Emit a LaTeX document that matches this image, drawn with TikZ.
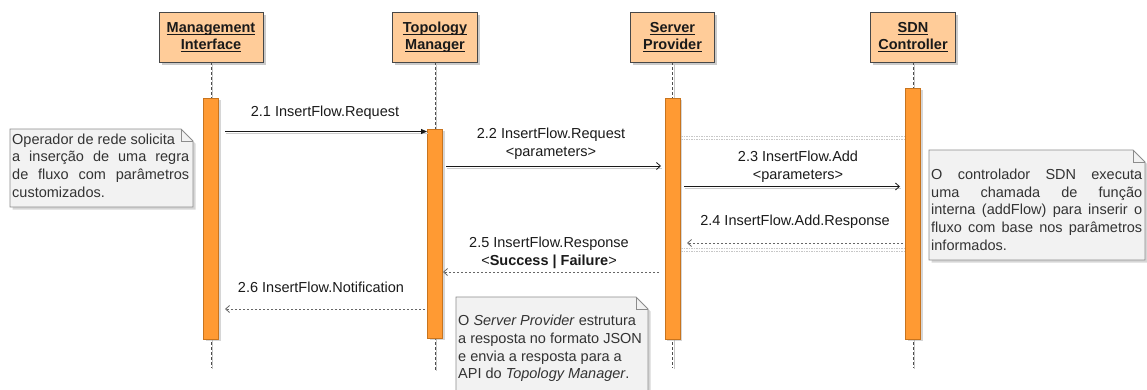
\documentclass[tikz,border=0pt]{standalone}
\usepackage{fontspec}
\setmainfont{Liberation Sans}
\usetikzlibrary{arrows.meta,shadows}

\definecolor{headfill}{HTML}{FFCC99}
\definecolor{barfill}{HTML}{FF9A33}
\definecolor{bardraw}{HTML}{C8741E}
\definecolor{notefill}{HTML}{F2F2F2}
\definecolor{notedraw}{HTML}{8C8C8C}
\definecolor{txt}{HTML}{1A1A1A}
\definecolor{notetxt}{HTML}{333333}

% underline at a fixed distance below the baseline
\newsavebox\hdbox
\newcommand\hdul[1]{\sbox\hdbox{#1}\rlap{\rule[-2.3pt]{\wd\hdbox}{1pt}}\usebox\hdbox}

\tikzset{
  lbl/.style={inner sep=0pt, text=txt, align=center,
    font=\fontsize{14.5}{18}\selectfont},
  head/.style={draw=black!72, fill=headfill, line width=0.8pt,
    minimum height=50pt, align=center, inner sep=0pt, text=txt,
    font=\fontsize{14.5}{17}\selectfont\bfseries,
    drop shadow={shadow xshift=2.5pt, shadow yshift=-2.5pt, opacity=0.45, fill=black!45}},
  bar/.style={draw=bardraw, fill=barfill, line width=0.7pt,
    minimum width=15pt, inner sep=0pt,
    drop shadow={shadow xshift=2pt, shadow yshift=-2pt, opacity=0.4, fill=black!40}},
  life/.style={draw=black!70, line width=0.8pt, dash pattern=on 3pt off 2pt,
    preaction={draw=black!22, transform canvas={shift={(1.5pt,-1pt)}}}},
  msgshadow/.style={preaction={draw=black!20, line width=1pt, arrows=-,
    transform canvas={shift={(0.5pt,-2.2pt)}}}},
  syncmsg/.style={draw=black!90, line width=0.8pt, msgshadow,
    -{Triangle[length=6pt,width=5pt]}},
  callmsg/.style={draw=black!90, line width=0.8pt, msgshadow,
    -{Straight Barb[length=4pt,width=7pt,line width=0.8pt]}},
  replymsg/.style={draw=black!60, line width=0.7pt, dash pattern=on 2pt off 2pt,
    -{Straight Barb[length=4pt,width=7pt,line width=0.8pt]}},
  faint/.style={draw=black!22, line width=0.6pt, dash pattern=on 1.5pt off 1pt},
  notebody/.style={draw=notedraw, fill=notefill, line width=0.8pt},
  noteshade/.style={fill=black!40, opacity=0.4, draw=none},
  notetext/.style={inner sep=0pt, text=notetxt, align=left, anchor=west,
    font=\fontsize{14.5}{17.7}\selectfont},
}

\begin{document}
\begin{tikzpicture}[x=1pt,y=-1pt]
\useasboundingbox (0,0) rectangle (1147,389);

% participant heads
\node[head, minimum width=104pt] (hMI)  at (211,37)   {\hdul{Management}\\\hdul{Interface}};
\node[head, minimum width=85pt]  (hTM)  at (435,37)   {\hdul{Topology}\\\hdul{Manager}};
\node[head, minimum width=84pt]  (hSP)  at (672.5,37) {\hdul{Server}\\\hdul{Provider}};
\node[head, minimum width=85pt]  (hSDN) at (913,37)   {\hdul{SDN}\\\hdul{Controller}};

% lifeline ends
\coordinate (eMI)  at (211,368);
\coordinate (eTM)  at (435,370);
\coordinate (eSP)  at (672.5,368);
\coordinate (eSDN) at (913,368);

\draw[life] (hMI.south)  -- (eMI);
\draw[life] (hTM.south)  -- (eTM);
\draw[life] (hSP.south)  -- (eSP);
\draw[life] (hSDN.south) -- (eSDN);

% activation bars
\node[bar, minimum height=241pt] (bMI)  at (211,218.5)   {};
\node[bar, minimum height=209pt] (bTM)  at (435,233.5)   {};
\node[bar, minimum height=241pt] (bSP)  at (672.5,218.5) {};
\node[bar, minimum height=251pt] (bSDN) at (913,213.5)   {};

% faint guide rows between Server Provider and SDN Controller
\coordinate (g1a) at (681,136.5); \coordinate (g1b) at (904,136.5);
\coordinate (g2a) at (681,139);   \coordinate (g2b) at (904,139);
\coordinate (g3a) at (681,248.5); \coordinate (g3b) at (904,248.5);
\coordinate (g4a) at (681,251);   \coordinate (g4b) at (904,251);
\draw[faint] (g1a) -- (g1b);
\draw[faint] (g2a) -- (g2b);
\draw[faint] (g3a) -- (g3b);
\draw[faint] (g4a) -- (g4b);

% message end points
\coordinate (m1s) at (225,131.5); \coordinate (m1e) at (427,131.5);
\coordinate (m2s) at (446,166);   \coordinate (m2e) at (661,166);
\coordinate (m3s) at (684,186.5); \coordinate (m3e) at (900,186.5);
\coordinate (m4s) at (903,243);   \coordinate (m4e) at (687,243);
\coordinate (m5s) at (659,272);   \coordinate (m5e) at (443,272);
\coordinate (m6s) at (425,309);   \coordinate (m6e) at (225,309);

% messages
\draw[syncmsg]  (m1s) -- (m1e);
\draw[callmsg]  (m2s) -- (m2e);
\draw[callmsg]  (m3s) -- (m3e);
\draw[replymsg] (m4s) -- (m4e);
\draw[replymsg] (m5s) -- (m5e);
\draw[replymsg] (m6s) -- (m6e);

% message labels
\node[lbl] (l1) at (325,113)   {2.1 InsertFlow.Request};
\node[lbl] (l2) at (551,144)   {2.2 InsertFlow.Request\\<parameters>};
\node[lbl] (l3) at (798,167)   {2.3 InsertFlow.Add\\<parameters>};
\node[lbl] (l4) at (795,222)   {2.4 InsertFlow.Add.Response};
\node[lbl] (l5) at (549,253)   {2.5 InsertFlow.Response\\<\textbf{Success | Failure}>};
\node[lbl] (l6) at (321,287.5) {2.6 InsertFlow.Notification};

% note: request from the operator
\fill[noteshade] (12.5,131.5) -- (183.5,131.5) -- (195.5,143.5) -- (195.5,209.5) -- (12.5,209.5) -- cycle;
\draw[notebody] (10,129) -- (181,129) -- (193,141) -- (193,207) -- (10,207) -- cycle;
\draw[notebody, fill=none] (181,129) -- (181,141) -- (193,141);
\node[notetext] (n1) at (12,165.5)
  {Operador de rede solicita\\
   \makebox[177pt][s]{a inserção de uma regra}\\
   \makebox[177pt][s]{de fluxo com parâmetros}\\
   customizados.};

% note: SDN controller internals
\fill[noteshade] (931.5,152.5) -- (1135.5,152.5) -- (1147.5,164.5) -- (1147.5,262.5) -- (931.5,262.5) -- cycle;
\draw[notebody] (929,150) -- (1133,150) -- (1145,162) -- (1145,260) -- (929,260) -- cycle;
\draw[notebody, fill=none] (1133,150) -- (1133,162) -- (1145,162);
\node[notetext] (n2) at (931,209.7)
  {\makebox[211pt][s]{O controlador SDN executa}\\
   \makebox[211pt][s]{uma chamada de função}\\
   \makebox[211pt][s]{interna (addFlow) para inserir o}\\
   \makebox[211pt][s]{fluxo com base nos parâmetros}\\
   informados.};

% note: response built by the Server Provider
\fill[noteshade] (458.5,299.5) -- (638.5,299.5) -- (650.5,311.5) -- (650.5,400) -- (458.5,400) -- cycle;
\draw[notebody] (456,297) -- (636,297) -- (648,309) -- (648,400) -- (456,400) -- cycle;
\draw[notebody, fill=none] (636,297) -- (636,309) -- (648,309);
\node[notetext] (n3) at (458,348.5)
  {O \textit{Server Provider} estrutura\\
   a resposta no formato JSON\\
   e envia a resposta para a\\
   API do \textit{Topology Manager}.};
\end{tikzpicture}
\end{document}
